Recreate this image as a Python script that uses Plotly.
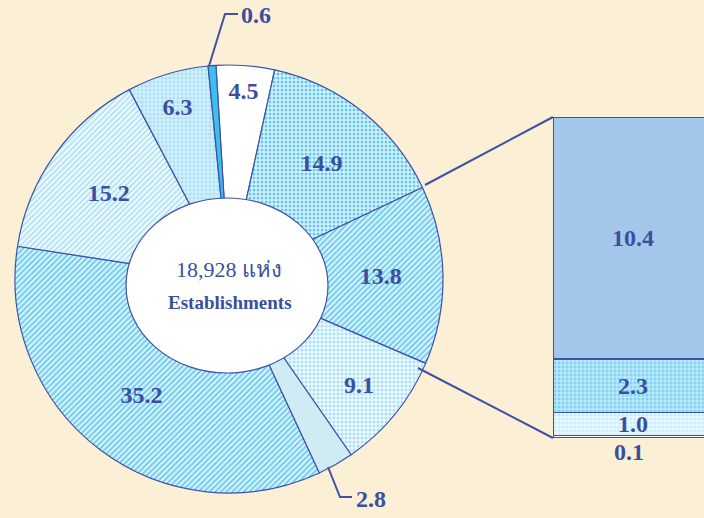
import plotly.graph_objects as go

# ---- data ----
pie_values = [4.5, 14.9, 13.8, 9.1, 2.8, 35.2, 15.2, 6.3, 0.6]
pie_names = ["A", "B", "Other", "C", "D", "E", "F", "G", "H"]
bar_values = [0.1, 1.0, 2.3, 10.4]   # breakdown of the 13.8 slice, bottom to top
bar_names = ["b1", "b2", "b3", "b4"]
center_total = "18,928 แห่ง"
center_label = "Establishments"

W, H = 704, 518
DARK = "#3A4FA0"
LINE = "#3F51A8"
FONT = "Liberation Serif"
LSIZE = 24

def px(x):
    return x / W

def py(y):
    return 1 - y / H

pie_colors = ["#FFFFFF", "#DDF3FC", "#DDF3FC", "#EEF9FE", "#CFECF4",
              "#DDF3FC", "#F4FBFE", "#D3EFFB", "#3EBFEE"]
pie_shapes = ["", ".", "/", ".", "", "/", "/", ".", ""]
pie_fg = ["#FFFFFF", "#62C9F0", "#62C9F0", "#A9E1F7", "#CFECF4",
          "#62C9F0", "#A9E1F7", "#A9E1F7", "#3EBFEE"]
pie_textpos = ["inside"] * 4 + ["none"] + ["inside"] * 3 + ["none"]

fig = go.Figure()

fig.add_trace(go.Pie(
    values=pie_values, labels=pie_names, sort=False, direction="clockwise",
    rotation=-3.5, hole=0.36,
    domain=dict(x=[px(15), px(443)], y=[py(493), py(65)]),
    marker=dict(colors=pie_colors, line=dict(color=LINE, width=1.2),
                pattern=dict(shape=pie_shapes, fgcolor=pie_fg, bgcolor=pie_colors,
                             size=4, solidity=0.45)),
    texttemplate="%{value:.1f}", textposition=pie_textpos,
    insidetextorientation="horizontal",
    insidetextfont=dict(family=FONT, size=LSIZE, color=DARK, weight="bold"),
    hoverinfo="skip", showlegend=False,
))

bar_colors = ["#F8FCFE", "#EAF8FE", "#BDE8F8", "#A3C7EA"]
bar_shapes = ["", ".", ".", ""]
bar_fg = ["#F8FCFE", "#A9E1F7", "#45BDEB", "#A3C7EA"]
bar_text = ["", "%{y:.1f}", "%{y:.1f}", "%{y:.1f}"]
for i, v in enumerate(bar_values):
    fig.add_trace(go.Bar(
        x=[0.53], y=[v], width=[1.06], name=bar_names[i],
        marker=dict(color=bar_colors[i], line=dict(color=LINE, width=1.2),
                    pattern=dict(shape=bar_shapes[i], fgcolor=bar_fg[i],
                                 bgcolor=bar_colors[i], size=4, solidity=0.45)),
        texttemplate=bar_text[i], textposition="inside", insidetextanchor="middle",
        constraintext="none",
        textfont=dict(family=FONT, size=LSIZE, color=DARK, weight="bold"),
        xaxis="x", yaxis="y", showlegend=False, hoverinfo="skip",
    ))

shapes = [
    # elliptical centre
    dict(type="circle", xref="paper", yref="paper",
         x0=px(126), x1=px(328), y0=py(373), y1=py(198),
         fillcolor="white", line=dict(color=LINE, width=1.2), layer="above"),
    # connectors pie -> bar
    dict(type="line", xref="paper", yref="paper", x0=px(425), y0=py(185),
         x1=px(553), y1=py(117), line=dict(color=LINE, width=2)),
    dict(type="line", xref="paper", yref="paper", x0=px(418), y0=py(368),
         x1=px(553), y1=py(438), line=dict(color=LINE, width=2)),
    # leader lines
    dict(type="path", xref="paper", yref="paper",
         path=f"M {px(209)},{py(66)} L {px(225)},{py(14)} L {px(238)},{py(14)}",
         line=dict(color=LINE, width=2)),
    dict(type="path", xref="paper", yref="paper",
         path=f"M {px(328)},{py(467)} L {px(340)},{py(497)} L {px(352)},{py(497)}",
         line=dict(color=LINE, width=2)),
]

annotations = [
    dict(text=center_total, x=px(229), y=py(269), xref="paper", yref="paper",
         xanchor="center", yanchor="middle",
         showarrow=False, font=dict(family=FONT, size=22, color=DARK)),
    dict(text=f"<b>{center_label}</b>", x=px(230), y=py(302), xref="paper", yref="paper",
         xanchor="center", yanchor="middle",
         showarrow=False, font=dict(family=FONT, size=19, color=DARK)),
    dict(text=f"<b>{pie_values[8]:.1f}</b>", x=px(239), y=py(15), xref="paper", yref="paper",
         xanchor="left", yanchor="middle",
         showarrow=False, font=dict(family=FONT, size=LSIZE, color=DARK)),
    dict(text=f"<b>{pie_values[4]:.1f}</b>", x=px(354), y=py(499), xref="paper", yref="paper",
         xanchor="left", yanchor="middle",
         showarrow=False, font=dict(family=FONT, size=LSIZE, color=DARK)),
    dict(text=f"<b>{bar_values[0]:.1f}</b>", x=0.5, y=0, xref="x", yref="y",
         xanchor="center", yanchor="middle",
         yshift=-14, showarrow=False, font=dict(family=FONT, size=LSIZE, color=DARK)),
]

fig.update_layout(
    width=W, height=H, margin=dict(l=0, r=0, t=0, b=0),
    paper_bgcolor="#FBEFD6", plot_bgcolor="rgba(0,0,0,0)",
    barmode="stack",
    xaxis=dict(domain=[px(553), 1], range=[0, 1], visible=False, fixedrange=True),
    yaxis=dict(domain=[py(438), py(117)], range=[0, 13.8], visible=False, fixedrange=True),
    shapes=shapes, annotations=annotations,
)

fig.write_html("out.html", config={"displayModeBar": False},
               post_script="document.body.style.margin='0';")
